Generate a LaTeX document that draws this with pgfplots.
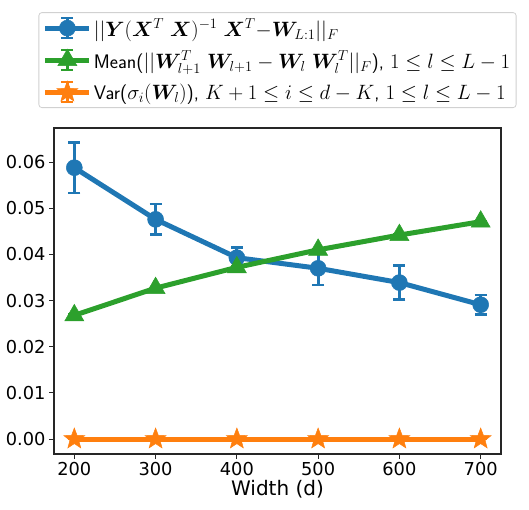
\documentclass[border=0pt]{standalone}
\usepackage{amsmath,bm}
\usepackage{fontspec}
\setmainfont{DejaVu Sans}
\usepackage{pgfplots}
\pgfplotsset{compat=1.18}
\definecolor{tblue}{HTML}{1F77B4}
\definecolor{tgreen}{HTML}{2CA02C}
\definecolor{torange}{HTML}{FF7F0E}
\definecolor{axgray}{HTML}{262626}
\pgfdeclareplotmark{fstar}{%
  \pgfpathmoveto{\pgfqpointpolar{90}{\pgfplotmarksize}}%
  \pgfpathlineto{\pgfqpointpolar{126}{0.42\pgfplotmarksize}}%
  \pgfpathlineto{\pgfqpointpolar{162}{\pgfplotmarksize}}%
  \pgfpathlineto{\pgfqpointpolar{198}{0.42\pgfplotmarksize}}%
  \pgfpathlineto{\pgfqpointpolar{234}{\pgfplotmarksize}}%
  \pgfpathlineto{\pgfqpointpolar{270}{0.42\pgfplotmarksize}}%
  \pgfpathlineto{\pgfqpointpolar{306}{\pgfplotmarksize}}%
  \pgfpathlineto{\pgfqpointpolar{342}{0.42\pgfplotmarksize}}%
  \pgfpathlineto{\pgfqpointpolar{18}{\pgfplotmarksize}}%
  \pgfpathlineto{\pgfqpointpolar{54}{0.42\pgfplotmarksize}}%
  \pgfpathclose
  \pgfusepathqfillstroke}
\begin{document}
\begin{tikzpicture}
\useasboundingbox (-54pt,-55pt) rectangle (475pt,454pt);
\begin{axis}[
  scale only axis, width=447pt, height=326pt,
  xmin=175, xmax=725, ymin=-0.00325, ymax=0.0674,
  xtick={200,300,400,500,600,700},
  ytick={0,0.01,0.02,0.03,0.04,0.05,0.06},
  scaled y ticks=false,
  yticklabel style={/pgf/number format/.cd, fixed, fixed zerofill, precision=2},
  /pgf/number format/assume math mode=true,
  ticklabel style={font=\fontsize{17.8}{21}\selectfont},
  tick align=outside, major tick length=5pt,
  tick style={axgray, line width=1pt},
  axis line style={axgray, line width=1.2pt},
  xtick pos=bottom, ytick pos=left,
  xlabel={Width (d)},
  xlabel style={font=\fontsize{20}{24}\selectfont, yshift=3pt},
  legend style={at={(0.5,1)}, anchor=south, yshift=20pt,
    draw=black!18, rounded corners=3pt, line width=0.8pt,
    font=\sffamily\fontsize{19.6}{23}\selectfont,
    inner xsep=4pt, inner ysep=4pt, row sep=9pt},
  legend cell align=left,
  legend image code/.code={
    \draw[#1, line width=5pt] (0pt,0pt) -- (44pt,0pt);
    \draw[#1, line width=3pt] (22pt,-10pt) -- (22pt,10pt);
    \draw[#1, line width=2.5pt] (16pt,-10pt) -- (28pt,-10pt) (16pt,10pt) -- (28pt,10pt);
    \draw[#1, only marks] plot coordinates {(22pt,0pt)};
  },
]
\addplot+[tblue, line width=5pt, mark=*, mark size=8pt,
  mark options={solid, fill=tblue, draw=tblue, line width=0.5pt},
  error bars/.cd, y dir=both, y explicit,
  error bar style={line width=3pt, tblue},
  error mark options={rotate=90, mark size=6pt, line width=2.5pt, tblue}]
  table[x=x, y=y, y error=e] {
x y e
200 0.0588 0.0055
300 0.0476 0.0033
400 0.0393 0.0022
500 0.0370 0.0036
600 0.0339 0.0037
700 0.0291 0.0021
};
\addlegendentry{$||\bm{Y}(\bm{X}^T\ \bm{X})^{-1}\ \bm{X}^T{-}\bm{W}_{L:1}||_F$}
\addplot+[tgreen, line width=5pt, mark=triangle*, mark size=11pt,
  mark options={solid, fill=tgreen, draw=tgreen, line width=0.5pt},
  error bars/.cd, y dir=both, y explicit,
  error bar style={line width=3pt, tgreen},
  error mark options={rotate=90, mark size=6pt, line width=2.5pt, tgreen}]
  table[x=x, y=y, y error=e] {
x y e
200 0.0268 0.0002
300 0.0327 0.0002
400 0.0372 0.0002
500 0.0410 0.0002
600 0.0442 0.0002
700 0.0471 0.0002
};
\addlegendentry{Mean($||\bm{W}_{l+1}^T\ \bm{W}_{l+1}-\bm{W}_l\ \bm{W}_l^T||_F$), $1\leq l\leq L-1$}
\addplot+[torange, line width=5pt, mark=fstar, mark size=11pt,
  mark options={solid, fill=torange, draw=torange, line width=0.5pt},
  error bars/.cd, y dir=both, y explicit,
  error bar style={line width=3pt, torange},
  error mark options={rotate=90, mark size=6pt, line width=2.5pt, torange}]
  table[x=x, y=y, y error=e] {
x y e
200 0 0
300 0 0
400 0 0
500 0 0
600 0 0
700 0 0
};
\addlegendentry{Var($\sigma_i(\bm{W}_l)$), $K+1\leq i\leq d-K$, $1\leq l\leq L-1$}
\end{axis}
\end{tikzpicture}
\end{document}
